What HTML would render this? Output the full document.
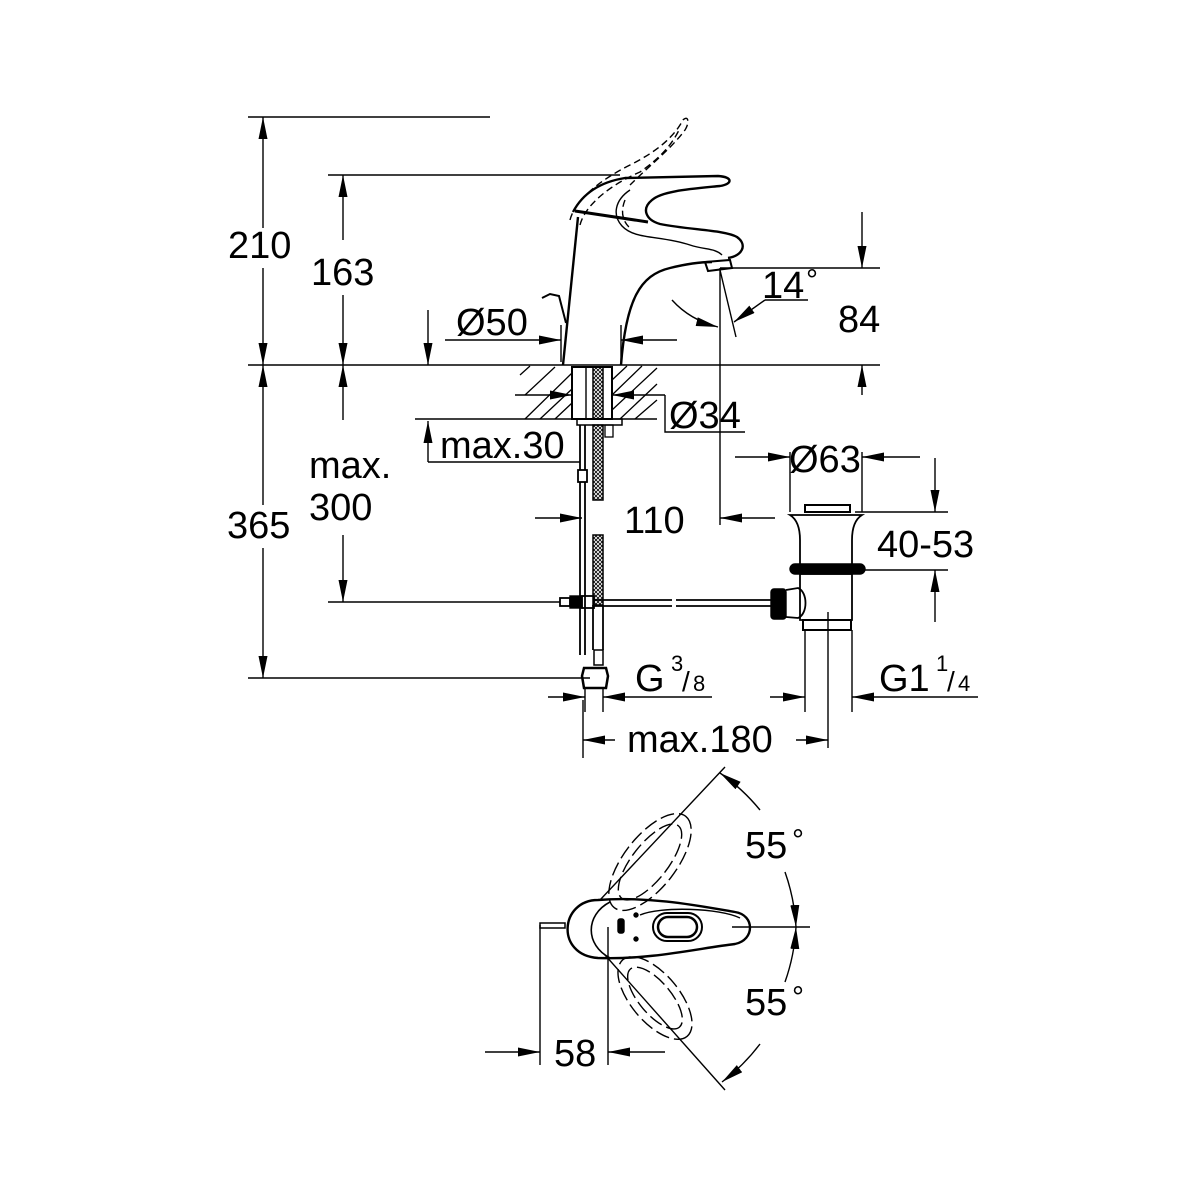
<!DOCTYPE html>
<html><head><meta charset="utf-8"><style>
html,body{margin:0;padding:0;background:#fff}
svg{display:block}
text{font-family:"Liberation Sans",sans-serif;font-size:38px;fill:#000}
</style></head><body>
<svg width="1200" height="1200" viewBox="0 0 1200 1200" xmlns="http://www.w3.org/2000/svg">
<defs>
<marker id="a" viewBox="0 0 22 9" refX="22" refY="4.5" markerWidth="22" markerHeight="9" markerUnits="userSpaceOnUse" orient="auto"><path d="M0,0 L22,4.5 L0,9 Z" fill="#000"/></marker>
<pattern id="hx" width="4" height="4" patternUnits="userSpaceOnUse"><path d="M0,0L4,4M4,0L0,4" stroke="#000" stroke-width="0.8"/></pattern>
</defs>
<g stroke="#000" stroke-width="1.4" fill="none">
<line x1="248" y1="117" x2="490" y2="117"/>
<line x1="328" y1="175" x2="620" y2="175"/>
<line x1="248" y1="365" x2="880" y2="365"/>
<line x1="328" y1="602" x2="560" y2="602"/>
<line x1="248" y1="678" x2="590" y2="678"/>
<line x1="263" y1="140" x2="263" y2="117" marker-end="url(#a)"/>
<line x1="263" y1="140" x2="263" y2="228"/>
<line x1="263" y1="268" x2="263" y2="365" marker-end="url(#a)"/>
<line x1="263" y1="390" x2="263" y2="365" marker-end="url(#a)"/>
<line x1="263" y1="390" x2="263" y2="505"/>
<line x1="263" y1="548" x2="263" y2="678" marker-end="url(#a)"/>
<line x1="343" y1="240" x2="343" y2="175" marker-end="url(#a)"/>
<line x1="343" y1="295" x2="343" y2="365" marker-end="url(#a)"/>
<line x1="343" y1="420" x2="343" y2="365" marker-end="url(#a)"/>
<line x1="343" y1="535" x2="343" y2="602" marker-end="url(#a)"/>
<line x1="428" y1="310" x2="428" y2="365" marker-end="url(#a)"/>
<line x1="445" y1="340" x2="561" y2="340" marker-end="url(#a)"/>
<line x1="677" y1="340" x2="621" y2="340" marker-end="url(#a)"/>
<line x1="561" y1="325" x2="561" y2="362"/>
<line x1="621" y1="325" x2="621" y2="362"/>
<path d="M563,365 L578,217" stroke-width="2.4"/>
<path d="M621,365 C626,300 640,275 670,268 C690,263 705,262 712,262" stroke-width="2.4"/>
<path d="M573,212 C583,193 600,182 625,178 L718,176 C733,177 733,184 720,186 C690,189 662,191 652,200 C641,209 646,220 660,224 C690,230 725,230 737,237 C748,245 742,256 728,258" stroke-width="2.4"/>
<path d="M575,211 L648,222" stroke-width="3"/>
<path d="M630,190 C615,200 612,215 622,226 C635,240 660,235 690,245 C705,250 715,248 722,255" stroke-width="1.4"/>
<path d="M705,262 L730,260 L732,268 L708,271 Z" stroke-width="2"/>
<path d="M542,298 L550,294 L559,296 L566,323" stroke-width="2"/>
<g stroke-dasharray="7,4">
<path d="M570,220 C575,200 600,180 630,165 C660,150 675,135 683,120 C688,115 690,122 685,130 C670,150 650,165 630,185"/>
<path d="M580,225 C585,205 610,185 640,172 C660,158 672,145 680,128"/>
<path d="M625,200 C620,212 623,222 630,228"/>
</g>
<line x1="720" y1="268" x2="880" y2="268"/>
<line x1="862" y1="212" x2="862" y2="268" marker-end="url(#a)"/>
<line x1="862" y1="395" x2="862" y2="365" marker-end="url(#a)"/>
<line x1="720" y1="268" x2="720" y2="525"/>
<line x1="720" y1="270" x2="736" y2="337"/>
<line x1="808" y1="300" x2="765" y2="300"/>
<line x1="765" y1="300" x2="734" y2="322" marker-end="url(#a)"/>
<path d="M672,300 Q690,320 718,327" marker-end="url(#a)"/>
<line x1="415" y1="419" x2="657" y2="419"/>
<g stroke-width="1.3">
<path d="M525,395 L555,367 M525,419 L572,373 M540,419 L572,389 M555,419 L572,403 M520,375 L530,366 M612,380 L627,366 M612,395 L642,366 M612,410 L657,368 M620,419 L657,384 M635,419 L657,400"/>
</g>
<rect x="572" y="367" width="40" height="52" fill="#fff" stroke-width="2"/>
<line x1="586" y1="367" x2="586" y2="419"/>
<rect x="593" y="367" width="10" height="52" fill="url(#hx)" stroke-width="1.5"/>
<rect x="577" y="419" width="45" height="6" stroke-width="1.5"/>
<rect x="605" y="425" width="8" height="12" stroke-width="1.3"/>
<line x1="515" y1="395" x2="572" y2="395" marker-end="url(#a)"/>
<line x1="665" y1="395" x2="612" y2="395" marker-end="url(#a)"/>
<polyline points="665,395 665,432 745,432"/>
<line x1="428" y1="462" x2="428" y2="421" marker-end="url(#a)"/>
<line x1="428" y1="462" x2="580" y2="462"/>
<line x1="580" y1="425" x2="580" y2="655" stroke-width="1.8"/>
<line x1="585" y1="425" x2="585" y2="655" stroke-width="1.8"/>
<rect x="578" y="470" width="9" height="12" fill="#fff" stroke-width="1.8"/>
<rect x="593" y="425" width="10" height="75" fill="url(#hx)" stroke-width="1.5"/>
<rect x="593" y="535" width="10" height="70" fill="url(#hx)" stroke-width="1.5"/>
<line x1="593" y1="605" x2="593" y2="650" stroke-width="1.8"/>
<line x1="603" y1="605" x2="603" y2="650" stroke-width="1.8"/>
<rect x="594" y="650" width="9" height="15" stroke-width="1.5"/>
<path d="M584,668 L606,668 L608,676 L606,688 L584,688 L582,676 Z" stroke-width="2.5"/>
<line x1="585" y1="688" x2="585" y2="712"/>
<line x1="603" y1="688" x2="603" y2="712"/>
<line x1="535" y1="518" x2="582" y2="518" marker-end="url(#a)"/>
<line x1="775" y1="518" x2="720" y2="518" marker-end="url(#a)"/>
<rect x="560" y="598" width="10" height="8" stroke-width="1.8"/>
<rect x="570" y="596" width="12" height="12" fill="#000"/>
<rect x="582" y="596" width="12" height="12" stroke-width="1.8"/>
<line x1="594" y1="600" x2="672" y2="600" stroke-width="1.8"/>
<line x1="594" y1="606" x2="672" y2="606" stroke-width="1.8"/>
<line x1="676" y1="600" x2="771" y2="600" stroke-width="1.8"/>
<line x1="676" y1="606" x2="771" y2="606" stroke-width="1.8"/>
<rect x="771" y="589" width="15" height="30" rx="3" fill="#000"/>
<path d="M786,590 L798,588 C808,592 808,614 798,618 L786,617" stroke-width="1.8"/>
<rect x="805" y="505" width="45" height="7" stroke-width="2"/>
<path d="M790,515 L862,515 C854,520 852,530 852,540 L852,565 L800,565 L800,540 C800,530 798,520 790,515 Z" stroke-width="1.8"/>
<rect x="790" y="564" width="75" height="10" rx="5" fill="#000"/>
<path d="M800,574 L852,574 L852,620 L800,620 Z" stroke-width="1.8"/>
<rect x="803" y="620" width="48" height="10" stroke-width="2"/>
<line x1="805" y1="630" x2="805" y2="712"/>
<line x1="852" y1="630" x2="852" y2="712"/>
<line x1="828" y1="612" x2="828" y2="748"/>
<line x1="790" y1="452" x2="790" y2="512"/>
<line x1="862" y1="452" x2="862" y2="512"/>
<line x1="735" y1="457" x2="790" y2="457" marker-end="url(#a)"/>
<line x1="920" y1="457" x2="862" y2="457" marker-end="url(#a)"/>
<line x1="855" y1="512" x2="948" y2="512"/>
<line x1="865" y1="570" x2="948" y2="570"/>
<line x1="935" y1="458" x2="935" y2="512" marker-end="url(#a)"/>
<line x1="935" y1="622" x2="935" y2="570" marker-end="url(#a)"/>
<line x1="548" y1="697" x2="585" y2="697" marker-end="url(#a)"/>
<line x1="712" y1="697" x2="603" y2="697" marker-end="url(#a)"/>
<line x1="770" y1="697" x2="805" y2="697" marker-end="url(#a)"/>
<line x1="978" y1="697" x2="852" y2="697" marker-end="url(#a)"/>
<line x1="583" y1="700" x2="583" y2="758"/>
<line x1="615" y1="740" x2="583" y2="740" marker-end="url(#a)"/>
<line x1="796" y1="740" x2="828" y2="740" marker-end="url(#a)"/>
<path d="M598,900 C560,900 555,955 598,958 C650,960 700,948 735,944 C755,940 755,915 735,912 C700,906 650,896 598,900 Z" stroke-width="2.4"/>
<path d="M610,902 C585,915 585,945 610,958" stroke-width="1.6"/>
<path d="M640,915 C660,906 720,908 740,918" stroke-width="1.4"/>
<rect x="653" y="913" width="49" height="28" rx="14" stroke-width="2"/>
<rect x="658" y="917" width="39" height="20" rx="10" stroke-width="2.5"/>
<rect x="618" y="919" width="6" height="14" rx="2" fill="#000"/>
<circle cx="636" cy="915" r="2" fill="#000"/>
<circle cx="636" cy="939" r="2" fill="#000"/>
<rect x="540" y="923" width="25" height="5" stroke-width="1.5"/>
<line x1="540" y1="925" x2="540" y2="1065"/>
<line x1="608" y1="927" x2="608" y2="1065"/>
<line x1="485" y1="1052" x2="540" y2="1052" marker-end="url(#a)"/>
<line x1="665" y1="1052" x2="608" y2="1052" marker-end="url(#a)"/>
<line x1="732" y1="927" x2="810" y2="927"/>
<line x1="600" y1="900" x2="725" y2="767"/>
<line x1="605" y1="955" x2="725" y2="1090"/>
<g stroke-dasharray="14,5">
<ellipse cx="650" cy="862" rx="58" ry="26" transform="rotate(-52 650 862)"/>
<ellipse cx="650" cy="862" rx="46" ry="18" transform="rotate(-52 650 862)"/>
<ellipse cx="655" cy="998" rx="50" ry="24" transform="rotate(50 655 998)"/>
<ellipse cx="655" cy="998" rx="38" ry="16" transform="rotate(50 655 998)"/>
</g>
<path d="M760,810 A196,196 0 0 0 720,773" marker-end="url(#a)"/>
<path d="M785,872 A196,196 0 0 1 796,927" marker-end="url(#a)"/>
<path d="M785,982 A196,196 0 0 0 796,927" marker-end="url(#a)"/>
<path d="M760,1044 A196,196 0 0 1 722,1082" marker-end="url(#a)"/>
</g>
<g>
<text x="228" y="258">210</text>
<text x="311" y="285">163</text>
<text x="227" y="538">365</text>
<text x="309" y="478">max.</text>
<text x="309" y="520">300</text>
<text x="456" y="335">Ø50</text>
<text x="762" y="298">14</text><text x="806" y="290" style="font-size:30px">°</text>
<text x="838" y="332">84</text>
<text x="669" y="428">Ø34</text>
<text x="440" y="458">max.30</text>
<text x="789" y="472">Ø63</text>
<text x="624" y="533">110</text>
<text x="877" y="557">40-53</text>
<text x="635" y="691">G</text>
<text x="671" y="671" style="font-size:22px">3</text>
<text x="682" y="691" style="font-size:28px">/</text>
<text x="693" y="691" style="font-size:22px">8</text>
<text x="879" y="691">G1</text>
<text x="936" y="671" style="font-size:22px">1</text>
<text x="947" y="691" style="font-size:28px">/</text>
<text x="958" y="691" style="font-size:22px">4</text>
<text x="627" y="752">max.180</text>
<text x="745" y="858">55</text><text x="792" y="850" style="font-size:30px">°</text>
<text x="745" y="1015">55</text><text x="792" y="1007" style="font-size:30px">°</text>
<text x="554" y="1066">58</text>
</g>
</svg>
</body></html>
